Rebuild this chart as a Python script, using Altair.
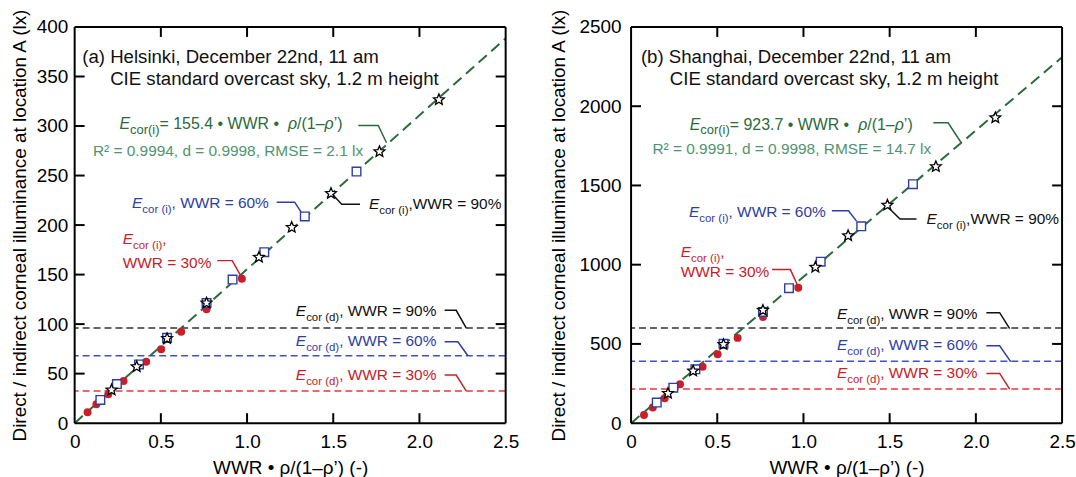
import math
import altair as alt
import pandas as pd

FONT = "Liberation Sans"
W, H = 433, 398
X_MAX = 2.5

x_ticks = [0, 0.5, 1.0, 1.5, 2.0, 2.5]
X_TITLE = "WWR • ρ/(1–ρ’) (-)"
Y_TITLE = "Direct / indirect corneal illuminance at location A (lx)"

# shared x values: WWR * rho/(1-rho')
x_wwr30 = [0.075, 0.126, 0.195, 0.284, 0.415, 0.502, 0.618, 0.765, 0.970]
x_wwr60 = [0.149, 0.245, 0.373, 0.536, 0.765, 0.916, 1.100, 1.335, 1.635]
x_wwr90 = [0.214, 0.360, 0.536, 0.765, 1.069, 1.259, 1.487, 1.768, 2.113]

# (a) Helsinki
a_y_max = 400
a_y_ticks = [0, 50, 100, 150, 200, 250, 300, 350, 400]
a_wwr30 = [11.1, 19.1, 29.1, 42.5, 62.0, 74.7, 92.2, 114.9, 145.7]
a_wwr60 = [23.4, 39.5, 59.3, 86.1, 121.3, 145.0, 172.6, 208.7, 254.0]
a_wwr90 = [33.5, 57.0, 85.4, 121.3, 167.5, 197.7, 231.9, 274.1, 326.6]
a_direct = [32.5, 68.0, 96.0]          # WWR 30 / 60 / 90 %
a_slope = 155.4

# (b) Shanghai
b_y_max = 2500
b_y_ticks = [0, 500, 1000, 1500, 2000, 2500]
b_wwr30 = [52, 99, 157, 245, 356, 435, 538, 670, 854]
b_wwr60 = [130, 224, 340, 501, 702, 852, 1019, 1242, 1508]
b_wwr90 = [188, 329, 496, 712, 984, 1183, 1376, 1619, 1927]
b_direct = [215, 390, 600]
b_slope = 923.7

RED, BLUE, BLACK = "#c8202a", "#2d3ea6", "#111111"
GREEN, LGREEN = "#2b6a3a", "#4f9470"
LINE_COLS = ["#e2383c", "#3d52c8", "#333333"]

# five-pointed star symbol as a unit SVG path
STAR_PATH = "M" + " L".join(
    "%.3f,%.3f" % ((1.0 if k % 2 == 0 else 0.45) * math.cos(-math.pi / 2 + k * math.pi / 5),
                   (1.0 if k % 2 == 0 else 0.45) * math.sin(-math.pi / 2 + k * math.pi / 5))
    for k in range(10)) + " Z"

# Arial / Liberation Sans advance widths (1/1000 em)
CW = {" ": 278, "(": 333, ")": 333, ",": 278, "-": 333, ".": 278, "/": 278, "=": 584,
      "%": 889, "'": 191, "’": 222, "•": 350, "–": 556, "ρ": 572, "²": 333}
for ch in "0123456789":
    CW[ch] = 556
CW.update(dict(zip("ABCDEFGHIJKLMNOPQRSTUVWXYZ",
                   [667, 667, 722, 722, 667, 611, 778, 722, 278, 500, 667, 556, 833,
                    722, 778, 667, 778, 722, 667, 611, 722, 667, 944, 667, 667, 611])))
CW.update(dict(zip("abcdefghijklmnopqrstuvwxyz",
                   [556, 556, 500, 556, 556, 278, 556, 556, 222, 222, 500, 222, 833,
                    556, 556, 556, 556, 333, 500, 278, 556, 500, 722, 500, 500, 500])))


def tw(s, fs):
    return sum(CW.get(c, 556) for c in s) / 1000.0 * fs


def eq_pieces(k):
    return [("E", "i"), ("cor(i)", "s"), (" = %s • WWR • " % k, "n"), ("ρ", "i"),
            ("/(1–", "n"), ("ρ", "i"), ("’)", "n")]


def e_lab(sub, rest):
    return [("E", "i"), (sub, "s"), (rest, "n")]


a_texts = [
    (0.044, 363.5, BLACK, 18.7, 0, [("(a) Helsinki, December 22nd, 11 am", "n")]),
    (0.206, 341.7, BLACK, 18.7, 0, [("CIE standard overcast sky, 1.2 m height", "n")]),
    (0.260, 296.5, GREEN, 16, 13, eq_pieces("155.4")),
    (0.106, 269.6, LGREEN, 15.5, 0, [("R² = 0.9994, d = 0.9998, RMSE = 2.1 lx", "n")]),
    (0.333, 216.8, BLUE, 15.5, 11.5, e_lab("cor (i)", ", WWR = 60%")),
    (1.707, 216.1, BLACK, 15.5, 11.5, e_lab("cor (i)", ",WWR = 90%")),
    (0.279, 180.9, RED, 15.5, 11.5, e_lab("cor (i)", ",")),
    (0.279, 156.8, RED, 15.5, 0, [("WWR = 30%", "n")]),
    (1.283, 108.2, BLACK, 15.5, 11.5, e_lab("cor (d)", ", WWR = 90%")),
    (1.283, 78.1, BLUE, 15.5, 11.5, e_lab("cor (d)", ", WWR = 60%")),
    (1.283, 43.5, RED, 15.5, 11.5, e_lab("cor (d)", ", WWR = 30%")),
]
a_leaders = [
    (GREEN, [1.645, 1.761, 1.809], [300.5, 300.5, 283.1]),
    (BLUE, [1.172, 1.276, 1.314], [223.1, 223.1, 213.1]),
    (BLACK, [1.495, 1.549, 1.655], [231.2, 221.1, 221.1]),
    (RED, [0.827, 0.914, 0.968], [164.1, 164.1, 147.4]),
    (BLACK, [2.146, 2.213, 2.271], [113.9, 113.9, 96.2]),
    (BLUE, [2.146, 2.223, 2.281], [82.1, 82.1, 68.0]),
    (RED, [2.146, 2.213, 2.271], [48.5, 48.5, 32.5]),
]

b_texts = [
    (0.057, 2272, BLACK, 18.7, 0, [("(b) Shanghai, December 22nd, 11 am", "n")]),
    (0.225, 2136, BLACK, 18.7, 0, [("CIE standard overcast sky, 1.2 m height", "n")]),
    (0.340, 1853, GREEN, 16, 13, eq_pieces("923.7")),
    (0.124, 1696, LGREEN, 15.5, 0, [("R² = 0.9991, d = 0.9998, RMSE = 14.7 lx", "n")]),
    (0.336, 1298, BLUE, 15.5, 11.5, e_lab("cor (i)", ", WWR = 60%")),
    (1.714, 1256, BLACK, 15.5, 11.5, e_lab("cor (i)", ",WWR = 90%")),
    (0.288, 1049, RED, 15.5, 11.5, e_lab("cor (i)", ",")),
    (0.288, 921, RED, 15.5, 0, [("WWR = 30%", "n")]),
    (1.194, 660, BLACK, 15.5, 11.5, e_lab("cor (d)", ", WWR = 90%")),
    (1.194, 460, BLUE, 15.5, 11.5, e_lab("cor (d)", ", WWR = 60%")),
    (1.194, 283, RED, 15.5, 11.5, e_lab("cor (d)", ", WWR = 30%")),
]
b_leaders = [
    (GREEN, [1.753, 1.839, 1.914], [1895, 1895, 1771]),
    (BLUE, [1.165, 1.261, 1.308], [1340, 1340, 1275]),
    (BLACK, [1.492, 1.560, 1.656], [1361, 1288, 1288]),
    (RED, [0.818, 0.924, 0.966], [969, 969, 869]),
    (BLACK, [2.061, 2.138, 2.196], [697, 697, 597]),
    (BLUE, [2.061, 2.138, 2.202], [488, 488, 388]),
    (RED, [2.061, 2.138, 2.196], [314, 314, 215]),
]

SUB_DY = 5     # px drop of subscripts
TICK_LEN = 10  # px, inward ticks


def text_rows(texts, y_max):
    ux, uy = X_MAX / W, y_max / H
    rows = []
    for ax, ay, col, fs, sfs, pieces in texts:
        cur = 0.0
        for t, kind in pieces:
            size = sfs if kind == "s" else fs
            rows.append(dict(x=ax + cur * ux,
                             y=ay - (SUB_DY * uy if kind == "s" else 0.0),
                             t=t, c=col, fs=size, it=1 if kind == "i" else 0))
            cur += tw(t, size)
    return pd.DataFrame(rows)


def leader_rows(leaders):
    rows = []
    for i, (col, xs, ys) in enumerate(leaders):
        for j, (xv, yv) in enumerate(zip(xs, ys)):
            rows.append(dict(id=i, o=j, x=xv, y=yv, c=col))
    return pd.DataFrame(rows)


def panel(y_max, y_ticks, y30, y60, y90, direct, slope, texts, leaders, label_pad, title_pad):
    xs = alt.Scale(domain=[0, X_MAX], nice=False, zero=False)
    ys = alt.Scale(domain=[0, y_max], nice=False, zero=False)
    common = dict(ticks=False, domain=False, grid=False, labelFont=FONT, titleFont=FONT,
                  labelFontSize=19, titleFontSize=19, titleFontWeight="normal",
                  labelColor="black", titleColor="black")
    xaxis = alt.Axis(values=x_ticks, labelFlush=False, labelPadding=9, titlePadding=8,
                     labelExpr="datum.value == 0 ? '0' : format(datum.value, '.1f')", **common)
    yaxis = alt.Axis(values=y_ticks, format="d", labelPadding=label_pad,
                     titlePadding=title_pad, **common)

    def X(f):
        return alt.X(f + ":Q", scale=xs, axis=xaxis, title=X_TITLE)

    def Y(f):
        return alt.Y(f + ":Q", scale=ys, axis=yaxis, title=Y_TITLE)

    layers = []
    d_df = pd.DataFrame({"v": direct, "c": LINE_COLS})
    layers.append(alt.Chart(d_df).mark_rule(strokeDash=[7, 4], strokeWidth=1.5).encode(
        y=Y("v"), color=alt.Color("c:N", scale=None)))

    fit_df = pd.DataFrame({"x": [0, X_MAX], "y": [0, slope * X_MAX]})
    layers.append(alt.Chart(fit_df).mark_line(color=GREEN, strokeWidth=2, strokeDash=[11, 6]).encode(
        x=X("x"), y=Y("y")))

    layers.append(alt.Chart(pd.DataFrame({"x": x_wwr30, "y": y30})).mark_point(
        shape="circle", filled=True, size=64, color=RED, opacity=1).encode(x=X("x"), y=Y("y")))
    layers.append(alt.Chart(pd.DataFrame({"x": x_wwr60, "y": y60})).mark_point(
        shape="square", filled=True, fill="white", stroke=BLUE, strokeWidth=1.4, size=75,
        opacity=1).encode(x=X("x"), y=Y("y")))
    layers.append(alt.Chart(pd.DataFrame({"x": x_wwr90, "y": y90})).mark_point(
        shape=STAR_PATH, filled=True, fill="white", stroke="black", strokeWidth=1.3, size=130,
        opacity=1).encode(x=X("x"), y=Y("y")))

    layers.append(alt.Chart(leader_rows(leaders)).mark_line(strokeWidth=1.5).encode(
        x=X("x"), y=Y("y"), detail="id:N", order="o:Q", color=alt.Color("c:N", scale=None)))

    tdf = text_rows(texts, y_max)
    for (fs, it), g in tdf.groupby(["fs", "it"]):
        layers.append(alt.Chart(g.reset_index(drop=True)).mark_text(
            align="left", baseline="alphabetic", font=FONT, fontSize=float(fs),
            fontStyle="italic" if it else "normal").encode(
            x=X("x"), y=Y("y"), text="t:N", color=alt.Color("c:N", scale=None)))

    # inward ticks on all four sides
    tx = TICK_LEN * X_MAX / W
    ty = TICK_LEN * y_max / H
    yt = pd.DataFrame({"v": y_ticks[1:-1]})
    xt = pd.DataFrame({"v": x_ticks[1:-1]})
    for d in (yt.assign(a=0.0, b=tx), yt.assign(a=X_MAX - tx, b=X_MAX)):
        layers.append(alt.Chart(d).mark_rule(color="black", strokeWidth=2).encode(
            y=Y("v"), x=X("a"), x2="b:Q"))
    for d in (xt.assign(a=0.0, b=ty), xt.assign(a=y_max - ty, b=float(y_max))):
        layers.append(alt.Chart(d).mark_rule(color="black", strokeWidth=2).encode(
            x=X("v"), y=Y("a"), y2="b:Q"))

    # plot frame
    frame = pd.DataFrame({"x": [0.0, X_MAX, 0.0, 0.0], "x2": [0.0, X_MAX, X_MAX, X_MAX],
                          "y": [0.0, 0.0, 0.0, float(y_max)],
                          "y2": [float(y_max), float(y_max), 0.0, float(y_max)]})
    layers.append(alt.Chart(frame).mark_rule(color="black", strokeWidth=2).encode(
        x=X("x"), x2="x2:Q", y=Y("y"), y2="y2:Q"))

    return alt.layer(*layers).properties(width=W, height=H)


left = panel(a_y_max, a_y_ticks, a_wwr30, a_wwr60, a_wwr90, a_direct, a_slope,
             a_texts, a_leaders, 7, 7)
right = panel(b_y_max, b_y_ticks, b_wwr30, b_wwr60, b_wwr90, b_direct, b_slope,
              b_texts, b_leaders, 10, 11)

chart = alt.hconcat(left, right, spacing=29).properties(
    padding={"left": 10, "top": 6, "right": 0, "bottom": 0}
).configure_view(stroke=None)

chart.save("out.html", embed_options={"renderer": "svg", "actions": False})
